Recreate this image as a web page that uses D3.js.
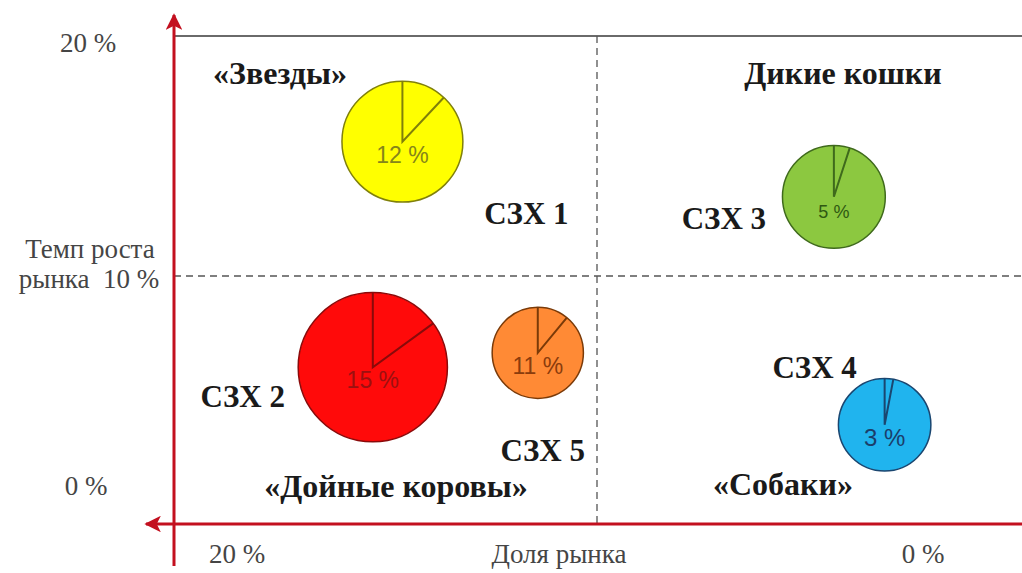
<!DOCTYPE html>
<html>
<head>
<meta charset="utf-8">
<script src="https://cdn.jsdelivr.net/npm/d3@7"></script>
<style>
  html, body { margin: 0; padding: 0; background: #ffffff; }
  svg { display: block; }
</style>
</head>
<body>
<svg id="chart" width="1022" height="573"></svg>
<script>
// Business units of the portfolio (BCG matrix)
const units = ["СЗХ 1", "СЗХ 2", "СЗХ 3", "СЗХ 4", "СЗХ 5"];
// Relative market share, % (axis runs from 20 % on the left to 0 % on the right)
const marketShare = [14.6, 15.3, 4.4, 3.2, 11.4];
// Market growth rate, %
const marketGrowth = [15.6, 6.2, 13.3, 3.8, 6.8];
// Sales volume (bubble area)
const salesVolume = [65, 99, 47, 38, 37];
// Share of the unit in total profit, % (wedge and label inside the bubble)
const profitShare = [12, 15, 5, 3, 11];

const quadrantNames = ["«Звезды»", "Дикие кошки", "«Дойные коровы»", "«Собаки»"];
const yTickLabels = ["20 %", "10 %", "0 %"];
const xTickLabels = ["20 %", "0 %"];
const yAxisTitle = ["Темп роста", "рынка"];
const xAxisTitle = "Доля рынка";

// Bubble styling per unit
const fills   = ["#ffff00", "#ff0a0a", "#8cc840", "#20b4ee", "#ff8a35"];
const strokes = ["#80800a", "#8a0a0a", "#3f6a1c", "#1a4670", "#7a3a08"];
const inks    = ["#85851a", "#9c1010", "#2f5812", "#1b3e6a", "#8a3c0c"];
const pctSize = [23, 23, 18, 24, 23];

const svg = d3.select("#chart");
const W = 1022;

const x = d3.scaleLinear().domain([20, 0]).range([174, 1020]);
const y = d3.scaleLinear().domain([0, 20]).range([516, 36]);
const r = d3.scaleSqrt().domain([0, 100]).range([0, 75]);

const axisRed = "#c3101f";
const serif = "'Liberation Serif', 'Times New Roman', serif";
const sans = "'Liberation Sans', Arial, sans-serif";

// top frame line
svg.append("line")
  .attr("x1", x(20)).attr("x2", W)
  .attr("y1", y(20)).attr("y2", y(20))
  .attr("stroke", "#6a6a6a").attr("stroke-width", 2);

// quadrant dividers
svg.append("line")
  .attr("x1", x(10)).attr("x2", x(10))
  .attr("y1", y(20)).attr("y2", 523)
  .attr("stroke", "#555").attr("stroke-width", 1.3)
  .attr("stroke-dasharray", "7,5");
svg.append("line")
  .attr("x1", x(20)).attr("x2", W)
  .attr("y1", y(10)).attr("y2", y(10))
  .attr("stroke", "#555").attr("stroke-width", 1.3)
  .attr("stroke-dasharray", "7,5");

// arrow heads
svg.append("defs").append("marker")
  .attr("id", "arrow")
  .attr("viewBox", "0 0 10 10")
  .attr("refX", 9).attr("refY", 5)
  .attr("markerWidth", 6).attr("markerHeight", 5.5)
  .attr("markerUnits", "strokeWidth")
  .attr("orient", "auto")
  .append("path")
  .attr("d", "M0,0 L10,5 L0,10 L2.5,5 Z")
  .attr("fill", axisRed);

// vertical axis (growth), arrow up
svg.append("line")
  .attr("x1", x(20)).attr("x2", x(20))
  .attr("y1", 566).attr("y2", 15)
  .attr("stroke", axisRed).attr("stroke-width", 3)
  .attr("marker-end", "url(#arrow)");
// horizontal axis (share), arrow left
svg.append("line")
  .attr("x1", W).attr("x2", 146)
  .attr("y1", 524).attr("y2", 524)
  .attr("stroke", axisRed).attr("stroke-width", 3)
  .attr("marker-end", "url(#arrow)");

// axis labels
const axisText = (t, px, py) => svg.append("text")
  .attr("x", px).attr("y", py)
  .attr("text-anchor", "middle")
  .style("white-space", "pre")
  .attr("font-family", serif).attr("font-size", 27)
  .attr("fill", "#454545").text(t);

axisText(yTickLabels[0], 88, y(20) + 16);
axisText(yAxisTitle[0], 90, y(10) - 18);
axisText(yAxisTitle[1] + "\u00a0\u00a0" + yTickLabels[1], 89, y(10) + 12);
axisText(yTickLabels[2], 86, y(0) - 21);
axisText(xTickLabels[0], x(20) + 63, 563);
axisText(xAxisTitle, 559, 563);
axisText(xTickLabels[1], x(0) - 97, 563);

// quadrant names
const quadText = (t, px, py) => svg.append("text")
  .attr("x", px).attr("y", py)
  .attr("text-anchor", "middle")
  .attr("font-family", serif).attr("font-weight", "bold")
  .attr("font-size", 32).attr("fill", "#1a1a1a").text(t);
quadText(quadrantNames[0], 280, 84);
quadText(quadrantNames[1], 843, 84);
quadText(quadrantNames[2], 396, 497);
quadText(quadrantNames[3], 783, 495);

// bubbles
const data = units.map((u, i) => ({
  name: u, share: marketShare[i], growth: marketGrowth[i],
  volume: salesVolume[i], pct: profitShare[i], i
}));

const g = svg.selectAll("g.unit").data(data).join("g")
  .attr("class", "unit")
  .attr("transform", d => `translate(${x(d.share)},${y(d.growth)})`);

g.append("circle")
  .attr("r", d => r(d.volume))
  .attr("fill", d => fills[d.i])
  .attr("stroke", d => strokes[d.i])
  .attr("stroke-width", 1.5);

// wedge marking the profit share, measured clockwise from 12 o'clock
g.append("path")
  .attr("d", d => {
    const R = r(d.volume);
    const a = d.pct / 100 * 2 * Math.PI;
    return `M0,${-R} L0,0 L${R * Math.sin(a)},${-R * Math.cos(a)}`;
  })
  .attr("fill", "none")
  .attr("stroke", d => strokes[d.i])
  .attr("stroke-width", 2);

g.append("text")
  .attr("y", 21)
  .attr("text-anchor", "middle")
  .attr("font-family", sans)
  .attr("font-size", d => pctSize[d.i])
  .attr("fill", d => inks[d.i])
  .text(d => d.pct + " %");

// unit names placed beside their bubbles
const nameOffset = [[124, 82], [-130, 40], [-110, 32], [-70, -47], [5, 108]];
svg.selectAll("text.unit-name").data(data).join("text")
  .attr("class", "unit-name")
  .attr("x", d => x(d.share) + nameOffset[d.i][0])
  .attr("y", d => y(d.growth) + nameOffset[d.i][1])
  .attr("text-anchor", "middle")
  .attr("font-family", serif).attr("font-weight", "bold")
  .attr("font-size", 31).attr("fill", "#1a1a1a")
  .text(d => d.name);
</script>
</body>
</html>
